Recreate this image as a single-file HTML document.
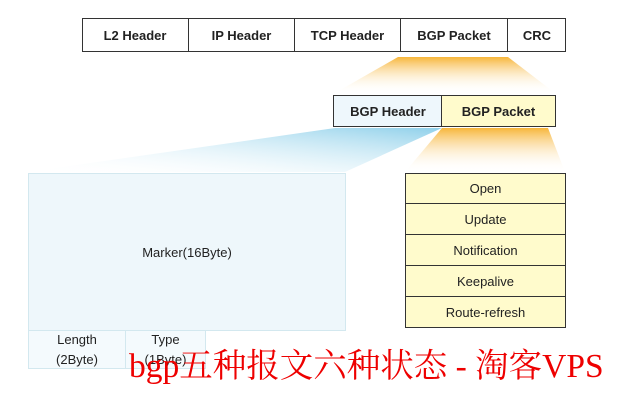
<!DOCTYPE html>
<html><head><meta charset="utf-8"><style>
body{margin:0;background:#fff;width:620px;height:400px;overflow:hidden;position:relative;font-family:"Liberation Sans",sans-serif}
.c{position:absolute;display:flex;align-items:center;justify-content:center;font-size:13px;font-weight:bold;color:#222;box-sizing:border-box}
.row{position:absolute;box-sizing:border-box;border:1.5px solid #333}
</style></head><body>
<svg width="620" height="400" style="position:absolute;left:0;top:0">
<defs>
<linearGradient id="o" x1="0" y1="0" x2="0" y2="1"><stop offset="0" stop-color="#f7b63a"/><stop offset="1" stop-color="#fff" stop-opacity="0"/></linearGradient>
<linearGradient id="b" x1="1" y1="0" x2="0" y2="1"><stop offset="0" stop-color="#8fd0ea"/><stop offset="1" stop-color="#fff" stop-opacity="0"/></linearGradient>
</defs>
<polygon points="398,57 508,57 555,93 335,93" fill="url(#o)"/>
<polygon points="442,128 548,128 565,172 405,172" fill="url(#o)"/>
<polygon points="335,128 442,128 345,172 28,172" fill="url(#b)"/>
</svg>
<div class="row" style="left:82px;top:18px;width:484px;height:34px"></div>
<div class="c" style="left:82px;top:18px;width:107px;height:34px;border-right:1.5px solid #333">L2 Header</div>
<div class="c" style="left:189px;top:18px;width:106px;height:34px;border-right:1.5px solid #333">IP Header</div>
<div class="c" style="left:295px;top:18px;width:106px;height:34px;border-right:1.5px solid #333">TCP Header</div>
<div class="c" style="left:401px;top:18px;width:107px;height:34px;border-right:1.5px solid #333">BGP Packet</div>
<div class="c" style="left:508px;top:18px;width:58px;height:34px">CRC</div>
<div class="c" style="left:333px;top:95px;width:109px;height:32px;background:#eef7fc;border:1.5px solid #333;border-right:none">BGP Header</div>
<div class="c" style="left:441px;top:95px;width:115px;height:32px;background:#fffbcc;border:1.5px solid #333">BGP Packet</div>
<div class="c" style="left:28px;top:173px;width:318px;height:158px;background:#eef7fb;border:1.5px solid #d3e8ef;font-weight:normal">Marker(16Byte)</div>
<div class="c" style="left:28px;top:330px;width:98px;height:39px;background:#f4fafd;border:1.5px solid #d3e8ef;font-weight:normal;line-height:1.5;text-align:center">Length<br>(2Byte)</div>
<div class="c" style="left:125px;top:330px;width:81px;height:39px;background:#f4fafd;border:1.5px solid #d3e8ef;font-weight:normal;line-height:1.5;text-align:center">Type<br>(1Byte)</div>
<div style="position:absolute;left:405px;top:173px;width:161px;height:155px;background:#fffbcc;border:1.5px solid #333;box-sizing:border-box"></div>
<div class="c" style="left:405px;top:173px;width:161px;height:31px;border-bottom:1.5px solid #333;font-weight:normal">Open</div>
<div class="c" style="left:405px;top:204px;width:161px;height:31px;border-bottom:1.5px solid #333;font-weight:normal">Update</div>
<div class="c" style="left:405px;top:235px;width:161px;height:31px;border-bottom:1.5px solid #333;font-weight:normal">Notification</div>
<div class="c" style="left:405px;top:266px;width:161px;height:31px;border-bottom:1.5px solid #333;font-weight:normal">Keepalive</div>
<div class="c" style="left:405px;top:297px;width:161px;height:31px;font-weight:normal">Route-refresh</div>
<div style="position:absolute;left:129px;top:347px;font-family:'Liberation Serif','Noto Serif CJK SC',serif;font-size:33.5px;color:#e00;white-space:nowrap;line-height:40px">bgp五种报文六种状态 - 淘客VPS</div>
</body></html>
